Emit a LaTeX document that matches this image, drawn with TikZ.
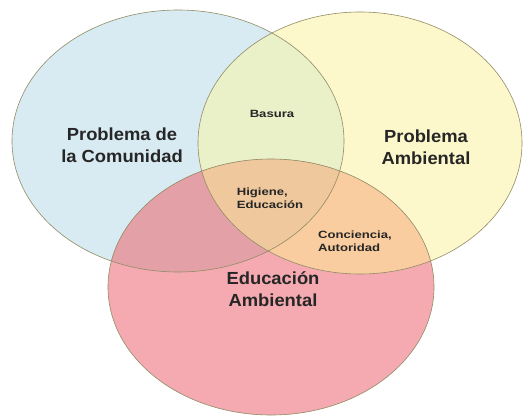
\documentclass[tikz,border=0pt]{standalone}
\usepackage{fontspec}
\setmainfont{Liberation Sans}
\newfontfamily\widefont[FakeStretch=1.25]{Liberation Sans}
\newfontfamily\bigfont[FakeStretch=1.05]{Liberation Sans}
\begin{document}
\begin{tikzpicture}[x=1pt,y=-1pt,
  big/.style={font=\bigfont\bfseries\fontsize{17.5}{22.5}\selectfont, align=center, text=black!85},
  small/.style={font=\widefont\bfseries\fontsize{10.5}{13.5}\selectfont, align=left, text=black!85},
  outline/.style={draw=gray!70!olive, line width=0.6pt}]
\definecolor{cB}{HTML}{D8EBF2}
\definecolor{cY}{HTML}{FDF8CC}
\definecolor{cR}{HTML}{F4AAB0}
\definecolor{cBY}{HTML}{EAF0C8}
\definecolor{cBR}{HTML}{E3A0A6}
\definecolor{cYR}{HTML}{F9CD9F}
\definecolor{cBYR}{HTML}{F0C89E}
\useasboundingbox[fill=white] (0,0) rectangle (531,416);
\def\EB{(178,141) ellipse [x radius=166, y radius=131]}
\def\EY{(360,143) ellipse [x radius=162, y radius=131]}
\def\ER{(271,287) ellipse [x radius=163, y radius=128]}
\fill[cB] \EB;
\fill[cY] \EY;
\fill[cR] \ER;
\begin{scope}\clip \EB; \fill[cBY] \EY; \fill[cBR] \ER; \end{scope}
\begin{scope}\clip \EY; \fill[cYR] \ER; \end{scope}
\begin{scope}\clip \EB; \clip \EY; \fill[cBYR] \ER; \end{scope}
\draw[outline] \EB;
\draw[outline] \EY;
\draw[outline] \ER;
\node[big] (pc) at (122,145) {Problema de\\la Comunidad};
\node[big] (pa) at (426,147) {Problema\\Ambiental};
\node[big] (ea) at (273,289) {Educación\\Ambiental};
\node[small] (ba) at (272,114) {Basura};
\node[small] (he) at (270,198) {Higiene,\\Educación};
\node[small] (ca) at (355,241) {Conciencia,\\Autoridad};
\end{tikzpicture}
\end{document}
